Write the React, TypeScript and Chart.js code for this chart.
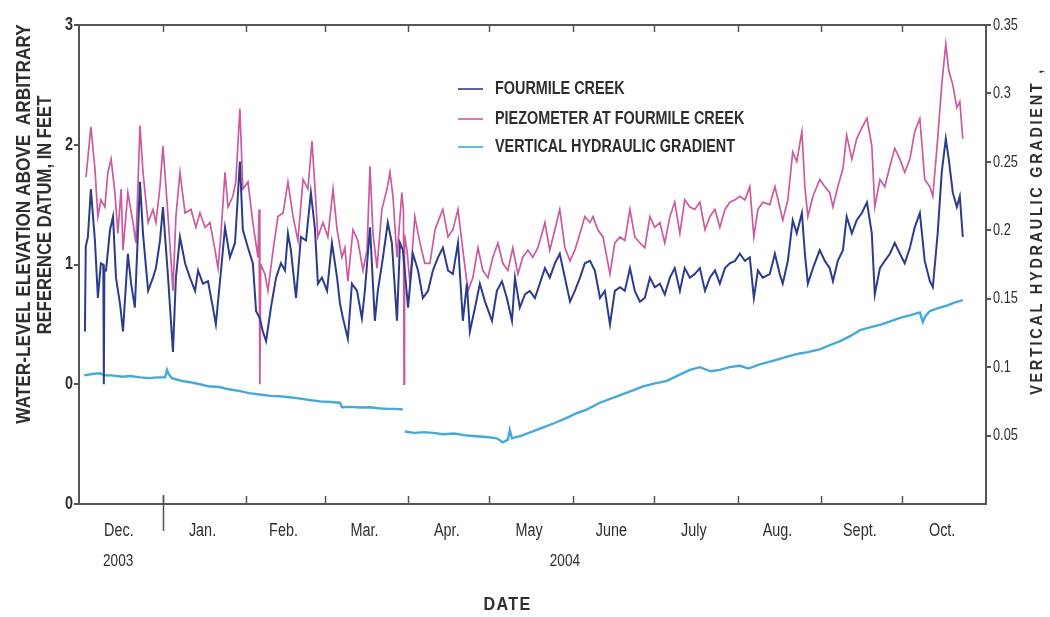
import { useEffect, useRef } from "react";
import { Chart, registerables } from "chart.js";

Chart.register(...registerables);

// Days are counted from 1 December 2003.
const creekDay = [
  2.2, 2.5, 3.3, 4.4, 5.9, 7.0, 8.1, 9.0, 9.2, 9.4, 10.0, 11.5, 12.6, 13.7, 15.2, 16.3, 18.1, 19.3, 20.7, 22.6,
  23.7, 25.6, 27.4, 28.5, 30.0, 31.1, 33.0, 34.8, 35.9, 37.4, 39.3, 41.1, 43.0, 44.1, 45.9, 47.8, 49.6, 50.7, 52.6, 54.1,
  55.9, 57.8, 59.6, 60.7, 62.6, 64.4, 65.6, 67.0, 68.1, 69.3, 71.1, 73.0, 74.8, 76.3, 77.4, 78.5, 80.4, 82.2, 84.1, 85.9,
  87.4, 88.5, 90.0, 91.9, 93.7, 95.6, 96.7, 97.8, 99.6, 101.1, 103.0, 104.8, 105.9, 107.8, 109.6, 110.7, 112.6, 114.4, 115.9, 117.8,
  118.9, 120.0, 121.9, 123.7, 125.6, 127.4, 129.3, 131.1, 133.0, 134.8, 136.7, 138.5, 140.4, 142.2, 143.7, 144.8, 146.7, 148.5, 150.4, 153.0,
  154.8, 156.7, 158.5, 160.4, 161.5, 163.3, 165.2, 167.0, 168.9, 170.7, 172.6, 174.4, 176.3, 178.1, 180.0, 181.9, 183.7, 185.6, 187.4, 189.3,
  191.1, 193.0, 194.8, 196.7, 198.5, 200.4, 202.2, 204.1, 205.9, 207.8, 209.6, 211.5, 213.3, 215.2, 217.0, 218.9, 220.7, 222.6, 224.4, 226.3,
  228.1, 230.0, 231.9, 233.7, 235.6, 237.4, 239.3, 241.1, 243.0, 244.8, 246.7, 248.5, 250.0, 251.5, 253.3, 255.9, 257.8, 259.6, 260.7, 262.6,
  264.4, 265.9, 267.8, 268.9, 270.0, 271.9, 274.4, 276.3, 278.1, 279.3, 281.1, 283.0, 284.4, 286.3, 288.1, 290.0, 291.9, 293.7, 294.8, 296.7,
  298.5, 300.4, 302.2, 304.1, 305.9, 307.8, 309.6, 311.5, 313.3, 315.2, 316.3, 318.1, 319.6, 321.1, 322.2, 323.7, 325.2, 326.3, 327.4,
];
const creekFt = [
  0.44, 1.15, 1.23, 1.63, 1.2, 0.72, 1.01, 1.0, 0.0, 0.95, 0.95, 1.29, 1.4, 0.89, 0.67, 0.44, 1.09, 0.84, 0.64, 1.69,
  1.26, 0.78, 0.89, 0.97, 1.2, 1.48, 0.89, 0.27, 0.89, 1.23, 1.01, 0.89, 0.78, 0.95, 0.84, 0.86, 0.64, 0.5, 0.95, 1.31,
  1.06, 1.18, 1.86, 1.29, 1.14, 1.01, 0.61, 0.55, 0.44, 0.36, 0.64, 0.89, 1.01, 0.95, 1.26, 1.12, 0.72, 1.23, 1.2, 1.6,
  1.3, 0.84, 0.89, 0.78, 1.18, 0.89, 0.67, 0.55, 0.38, 0.84, 0.78, 0.55, 0.78, 1.31, 0.53, 0.78, 1.06, 1.35, 1.18, 0.53,
  1.18, 1.12, 0.64, 1.09, 0.95, 0.72, 0.78, 0.95, 1.06, 1.14, 0.95, 0.92, 1.18, 0.53, 0.84, 0.44, 0.64, 0.84, 0.69, 0.53,
  0.78, 0.86, 0.72, 0.53, 0.89, 0.64, 0.75, 0.78, 0.72, 0.84, 0.97, 0.89, 1.01, 1.09, 0.89, 0.69, 0.78, 0.89, 1.01, 1.03,
  0.95, 0.72, 0.78, 0.5, 0.78, 0.81, 0.78, 0.97, 0.78, 0.69, 0.72, 0.89, 0.81, 0.84, 0.75, 0.89, 0.97, 0.78, 0.97, 0.89,
  0.92, 0.97, 0.78, 0.89, 0.95, 0.84, 0.97, 1.01, 1.03, 1.09, 1.03, 1.06, 0.72, 0.95, 0.89, 0.92, 1.09, 0.92, 0.84, 1.03,
  1.37, 1.26, 1.43, 1.09, 0.84, 0.97, 1.12, 1.03, 0.97, 0.86, 1.03, 1.12, 1.4, 1.26, 1.37, 1.43, 1.52, 1.26, 0.75, 0.97,
  1.03, 1.09, 1.18, 1.09, 1.01, 1.14, 1.31, 1.43, 1.03, 0.86, 0.81, 1.26, 1.77, 2.05, 1.88, 1.6, 1.48, 1.57, 1.23,
];

const piezoDay = [
  2.6, 4.4, 5.9, 7.0, 8.1, 9.6, 10.7, 11.9, 13.3, 14.4, 15.6, 16.3, 18.1, 20.0, 21.1, 22.6, 23.7, 25.6, 27.4, 28.5,
  30.0, 31.1, 33.0, 34.8, 35.9, 37.4, 39.3, 41.5, 43.3, 44.8, 46.7, 48.5, 50.4, 51.5, 52.6, 54.1, 55.2, 57.0, 58.1, 59.6,
  60.7, 62.6, 64.4, 66.3, 66.7, 67.0, 67.3, 68.9, 70.0, 71.9, 73.7, 75.6, 77.4, 79.3, 81.1, 83.0, 84.8, 86.3, 87.4, 88.5,
  90.4, 92.2, 94.1, 95.6, 97.4, 98.5, 99.6, 101.5, 103.3, 105.2, 106.7, 107.8, 108.9, 110.4, 112.2, 114.1, 115.2, 116.3, 117.8, 119.6,
  120.2, 120.4, 120.6, 121.5, 122.6, 124.4, 126.3, 128.1, 130.0, 131.9, 133.7, 134.8, 136.7, 138.5, 140.4, 142.2, 144.1, 145.9, 147.8, 149.6,
  151.5, 153.3, 155.2, 157.0, 158.9, 160.7, 162.6, 164.4, 166.3, 168.1, 170.0, 171.9, 172.6, 174.4, 176.3, 178.1, 180.0, 181.9, 183.7, 185.6,
  187.4, 189.3, 190.4, 192.2, 194.1, 196.7, 198.5, 200.4, 202.2, 204.1, 205.9, 207.8, 209.6, 211.5, 213.3, 215.2, 217.0, 218.9, 220.7, 222.6,
  224.4, 226.3, 228.1, 230.0, 231.9, 233.7, 235.6, 237.4, 239.3, 241.1, 243.0, 244.8, 246.7, 248.5, 250.0, 251.5, 253.3, 255.9, 257.8, 259.6,
  260.7, 262.6, 264.4, 265.9, 267.8, 268.9, 270.0, 271.9, 274.4, 276.3, 278.1, 279.3, 281.1, 283.0, 284.4, 286.3, 288.1, 290.0, 291.9, 293.7,
  294.8, 296.7, 298.5, 300.4, 302.2, 304.1, 305.9, 307.8, 309.6, 311.5, 313.3, 315.2, 316.3, 318.1, 319.6, 321.1, 322.2, 323.7, 325.2, 326.3,
  327.4,
];
const piezoFt = [
  1.73, 2.15, 1.8, 1.4, 1.54, 1.48, 1.77, 1.88, 1.6, 1.26, 1.63, 1.12, 1.6, 1.35, 1.18, 2.16, 1.77, 1.35, 1.46, 1.35,
  1.65, 1.99, 1.4, 0.78, 1.4, 1.77, 1.43, 1.46, 1.31, 1.43, 1.31, 1.35, 1.12, 0.97, 1.26, 1.77, 1.48, 1.57, 1.69, 2.3,
  1.63, 1.69, 1.35, 1.06, 1.46, 0.0, 1.0, 0.92, 0.78, 1.12, 1.4, 1.43, 1.69, 1.4, 1.2, 1.71, 1.63, 2.03, 1.65, 1.23,
  1.35, 1.23, 1.63, 1.29, 1.06, 1.14, 0.86, 1.29, 1.2, 0.95, 1.12, 1.82, 1.26, 0.97, 1.46, 1.63, 1.77, 1.57, 1.06, 1.6,
  1.45, 0.0, 1.25, 1.12, 0.84, 1.4, 1.18, 1.01, 1.01, 1.29, 1.4, 1.46, 1.23, 1.29, 1.46, 1.12, 0.78, 0.89, 1.14, 0.95,
  0.89, 1.06, 1.18, 1.01, 0.95, 1.14, 0.92, 1.06, 1.12, 1.06, 1.14, 1.29, 1.35, 1.12, 1.29, 1.46, 1.14, 1.03, 1.12, 1.26,
  1.4, 1.35, 1.4, 1.29, 1.23, 0.92, 1.18, 1.23, 1.2, 1.46, 1.23, 1.18, 1.14, 1.4, 1.31, 1.35, 1.18, 1.4, 1.52, 1.26,
  1.54, 1.48, 1.46, 1.52, 1.29, 1.4, 1.46, 1.31, 1.46, 1.52, 1.54, 1.57, 1.54, 1.65, 1.23, 1.46, 1.52, 1.5, 1.65, 1.48,
  1.37, 1.54, 1.94, 1.86, 2.11, 1.65, 1.4, 1.57, 1.71, 1.65, 1.6, 1.48, 1.65, 1.8, 2.08, 1.88, 2.05, 2.14, 2.22, 1.99,
  1.48, 1.71, 1.65, 1.82, 1.97, 1.88, 1.77, 1.88, 2.11, 2.22, 1.71, 1.65, 1.57, 2.05, 2.5, 2.84, 2.62, 2.5, 2.31, 2.36,
  2.05,
];

// The gradient record has a break at the start of April (null value).
const gradientDay = [
  1.9, 5, 7.8, 9.3, 12, 16, 19, 22.6, 26, 29, 31.9, 32.6, 33.2, 34.4, 38, 41, 44.8, 48, 52, 55,
  59.6, 63, 67, 71, 74.4, 78, 82, 86, 89.3, 93, 96.7, 97.4, 101, 104, 107.8, 111, 114, 117, 120.0, 120.3,
  120.7, 124, 128, 131.1, 135, 139, 143.7, 147, 151, 154.8, 157.0, 158.9, 159.6, 160.4, 164, 168.1, 172, 176, 180.7, 184,
  188, 193.0, 197, 201, 205.2, 209, 213, 217.8, 222, 226.3, 230.0, 234, 237.4, 241, 244.8, 248, 252.2, 256, 259.6, 263,
  267.0, 270, 274.4, 278, 282, 286, 289.3, 293, 297, 300, 304.1, 308, 311.5, 312.6, 313.5, 315.2, 318, 321.5, 324, 327.4,
];
const gradient = [
  0.094, 0.095, 0.0955, 0.094, 0.094, 0.093, 0.0935, 0.0925, 0.092, 0.0925, 0.0925, 0.098, 0.095, 0.092, 0.09, 0.089, 0.0875, 0.086, 0.0855, 0.084,
  0.0825, 0.081, 0.08, 0.079, 0.0787, 0.078, 0.077, 0.0758, 0.075, 0.0745, 0.074, 0.0707, 0.071, 0.0705, 0.0707, 0.07, 0.0695, 0.0695, 0.069, null,
  0.053, 0.052, 0.0525, 0.052, 0.051, 0.0515, 0.05, 0.0495, 0.049, 0.048, 0.045, 0.047, 0.054, 0.048, 0.05, 0.053, 0.056, 0.059, 0.063, 0.066,
  0.069, 0.074, 0.077, 0.08, 0.083, 0.086, 0.088, 0.09, 0.094, 0.098, 0.1, 0.097, 0.098, 0.1, 0.101, 0.099, 0.102, 0.104, 0.106, 0.108,
  0.11, 0.111, 0.113, 0.116, 0.119, 0.123, 0.127, 0.129, 0.131, 0.133, 0.136, 0.138, 0.14, 0.133, 0.137, 0.141, 0.143, 0.145, 0.147, 0.149,
];

// Month boundaries (days since 1 Dec 2003) and their labels.
const monthStartDay = [0, 31, 62, 91, 122, 152, 183, 213, 244, 275, 305, 336];
const monthLabels = ["Dec.", "Jan.", "Feb.", "Mar.", "Apr.", "May", "June", "July", "Aug.", "Sept.", "Oct."];
const yearLabels = ["2003", "2004"];
const yearLabelDay = [14.5, 180];
const yearBoundaryDay = 31;

const seriesNames = ["FOURMILE CREEK", "PIEZOMETER AT FOURMILE CREEK", "VERTICAL HYDRAULIC GRADIENT"];
const seriesColors = ["#2c3c8c", "#cc5a9f", "#45a9d9"];

const FONT = "'Liberation Sans', Arial, sans-serif";
const INK = "#2e2e2e";
const FRAME = "#555555";

const toPoints = (days: number[], values: (number | null)[]) => days.map((x, i) => ({ x, y: values[i] }));

function drawLabel(
  ctx: CanvasRenderingContext2D,
  text: string,
  x: number,
  y: number,
  size: number,
  opts: { sx?: number; rot?: number; align?: CanvasTextAlign; spacing?: number; weight?: string } = {}
) {
  const { sx = 0.8, rot = 0, align = "center", spacing = 0, weight = "bold" } = opts;
  ctx.save();
  ctx.translate(x, y);
  if (rot) ctx.rotate(rot);
  ctx.scale(sx, 1);
  ctx.font = `${weight} ${size}px ${FONT}`;
  ctx.fillStyle = INK;
  ctx.textAlign = align;
  ctx.textBaseline = "middle";
  (ctx as any).letterSpacing = `${spacing}px`;
  ctx.fillText(text, 0, 0);
  ctx.restore();
}

function strokeLine(ctx: CanvasRenderingContext2D, x1: number, y1: number, x2: number, y2: number) {
  ctx.beginPath();
  ctx.moveTo(x1, y1);
  ctx.lineTo(x2, y2);
  ctx.stroke();
}

// Frame, month ticks, tick labels, legend and axis titles.
const figureDecor = {
  id: "figureDecor",
  afterDraw(chart: any) {
    const ctx: CanvasRenderingContext2D = chart.ctx;
    const { top, bottom, left, right } = chart.chartArea;
    const xs = chart.scales.x;
    const yl = chart.scales.y;
    const yr = chart.scales.y1;

    ctx.save();
    ctx.strokeStyle = FRAME;
    ctx.lineWidth = 2;
    strokeLine(ctx, left - 1, top, right + 1, top);

    ctx.lineWidth = 1.5;
    monthStartDay.forEach((d, i) => {
      if (i === 0 || i === monthStartDay.length - 1) return;
      const px = Math.round(xs.getPixelForValue(d)) + 0.5;
      strokeLine(ctx, px, bottom, px, bottom - 8);
      strokeLine(ctx, px, top, px, top + 7);
    });
    const jx = Math.round(xs.getPixelForValue(yearBoundaryDay)) + 0.5;
    strokeLine(ctx, jx, bottom - 9, jx, bottom + 27);
    ctx.restore();

    // month and year labels
    monthLabels.forEach((m, i) => {
      const mid = (monthStartDay[i] + monthStartDay[i + 1]) / 2;
      drawLabel(ctx, m, xs.getPixelForValue(mid) - 2, bottom + 27, 18, { weight: "normal", sx: 0.8 });
    });
    yearLabels.forEach((yText, i) => {
      drawLabel(ctx, yText, xs.getPixelForValue(yearLabelDay[i]), bottom + 57, 17, { weight: "normal", sx: 0.8 });
    });
    drawLabel(ctx, "DATE", (left + right) / 2 - 25, bottom + 101, 19, { sx: 0.85, spacing: 1.5 });

    // y tick labels
    yl.ticks.forEach((t: any) => {
      drawLabel(ctx, String(t.label), left - 6, yl.getPixelForValue(t.value), 18, { align: "right", sx: 0.8 });
    });
    yr.ticks.forEach((t: any) => {
      if (t.label === null || t.label === undefined || t.label === "") return;
      drawLabel(ctx, String(t.label), right + 7, yr.getPixelForValue(t.value), 17, { align: "left", sx: 0.75, weight: "normal" });
    });

    // axis titles
    drawLabel(ctx, "WATER-LEVEL ELEVATION ABOVE  ARBITRARY", 24, 224, 21, { rot: -Math.PI / 2, sx: 0.82 });
    drawLabel(ctx, "REFERENCE DATUM, IN FEET", 45, 215, 20, { rot: -Math.PI / 2, sx: 0.83 });
    drawLabel(ctx, "VERTICAL HYDRAULIC GRADIENT ,", 1037, 231, 17, { rot: -Math.PI / 2, sx: 0.85, spacing: 3.2 });

    // legend
    const lx = left + 379;
    const rows = [89, 119, 147];
    chart.data.datasets.forEach((ds: any, i: number) => {
      ctx.save();
      ctx.strokeStyle = ds.borderColor;
      ctx.globalAlpha = 0.8;
      ctx.lineWidth = 2;
      strokeLine(ctx, lx, rows[i], lx + 25, rows[i]);
      ctx.restore();
      drawLabel(ctx, ds.label, lx + 37, rows[i], 18, { align: "left", sx: 0.8 });
    });
  },
};

export default function App() {
  const canvasRef = useRef<HTMLCanvasElement | null>(null);

  useEffect(() => {
    if (!canvasRef.current) return;
    const frameAxis = { color: FRAME, width: 2 };
    const chart = new Chart(canvasRef.current, {
      type: "line",
      data: {
        datasets: [
          {
            label: seriesNames[0],
            data: toPoints(creekDay, creekFt),
            borderColor: seriesColors[0],
            borderWidth: 2,
            yAxisID: "y",
          },
          {
            label: seriesNames[1],
            data: toPoints(piezoDay, piezoFt),
            borderColor: seriesColors[1],
            borderWidth: 1.7,
            yAxisID: "y",
          },
          {
            label: seriesNames[2],
            data: toPoints(gradientDay, gradient),
            borderColor: seriesColors[2],
            borderWidth: 2.4,
            yAxisID: "y1",
            spanGaps: false,
          },
        ],
      },
      options: {
        animation: false,
        responsive: false,
        maintainAspectRatio: false,
        layout: { padding: { top: 25, left: 0, right: 0, bottom: 0 } },
        elements: { point: { radius: 0 }, line: { tension: 0 } },
        plugins: { legend: { display: false }, tooltip: { enabled: false } },
        scales: {
          x: {
            type: "linear",
            min: 0,
            max: 336,
            ticks: { display: false },
            grid: { display: false },
            border: frameAxis,
            afterFit: (s: any) => {
              s.height = 113;
            },
          },
          y: {
            position: "left",
            min: -1,
            max: 3,
            ticks: { display: false, stepSize: 1, callback: (v: any) => (v === -1 ? "0" : String(v)) },
            grid: { drawOnChartArea: false, drawTicks: true, tickLength: 5, color: FRAME, lineWidth: 2 },
            border: frameAxis,
            afterFit: (s: any) => {
              s.width = 79;
            },
          },
          y1: {
            position: "right",
            min: 0,
            max: 0.35,
            ticks: {
              display: false,
              stepSize: 0.05,
              callback: (v: any) => (v <= 0.0001 ? null : String(Number(Number(v).toFixed(2)))),
            },
            grid: { drawOnChartArea: false, drawTicks: true, tickLength: 5, color: FRAME, lineWidth: 2 },
            border: frameAxis,
            afterFit: (s: any) => {
              s.width = 64;
            },
          },
        },
      },
      plugins: [figureDecor],
    } as any);
    return () => chart.destroy();
  }, []);

  return (
    <div style={{ position: "absolute", left: 0, top: 0, width: 1050, height: 617, background: "#ffffff" }}>
      <canvas ref={canvasRef} width={1050} height={617} />
    </div>
  );
}
